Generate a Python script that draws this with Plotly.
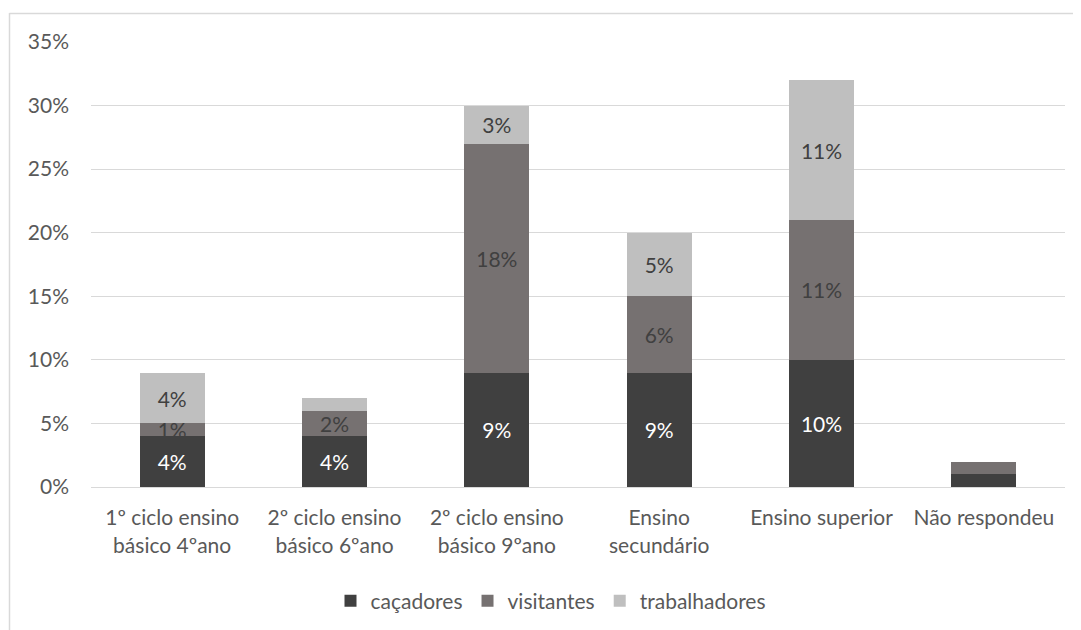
import plotly.graph_objects as go

categories = ["1º ciclo ensino<br>básico 4ºano", "2º ciclo ensino<br>básico 6ºano",
              "2º ciclo ensino<br>básico 9ºano", "Ensino<br>secundário",
              "Ensino superior", "Não respondeu"]
cacadores = [4, 4, 9, 9, 10, 1]
visitantes = [1, 2, 18, 6, 11, 1]
trabalhadores = [4, 1, 3, 5, 11, 0]
show_cac = [True, True, True, True, True, False]
show_vis = [True, True, True, True, True, False]
show_tra = [True, False, True, True, True, False]

FONT = "Lato"
FS = 21
OFF = 8  # page body margin
W, H = 1081 - OFF, 630 - OFF
L, R, T, B = 91 - OFF, 16, 42 - OFF, 143

def labels(vals, show):
    return [f"{v}%" if s else "" for v, s in zip(vals, show)]

fig = go.Figure()
for name, vals, show, color, tcol in [
    ("caçadores", cacadores, show_cac, "#404040", "white"),
    ("visitantes", visitantes, show_vis, "#767171", "#404040"),
    ("trabalhadores", trabalhadores, show_tra, "#BFBFBF", "#404040"),
]:
    fig.add_trace(go.Bar(
        x=categories, y=vals, name=name, marker=dict(color=color, line=dict(width=0)),
        text=labels(vals, show), textposition="inside", insidetextanchor="middle",
        textangle=0, textfont=dict(color=tcol, size=FS, family=FONT),
        hoverinfo="skip",
    ))

pw = W - L - R
ph = H - T - B
def px(x): return (x - OFF - L) / pw
def py(y): return (H - B - (y - OFF)) / ph

fig.update_layout(
    barmode="stack", bargap=0.6,
    width=W, height=H, margin=dict(l=L, r=R, t=T, b=B, autoexpand=False),
    paper_bgcolor="white", plot_bgcolor="white",
    font=dict(family=FONT, size=FS, color="#595959"),
    uniformtext=dict(minsize=FS, mode="show"),
    yaxis=dict(range=[0, 35], dtick=5, ticksuffix="%", showgrid=True,
               gridcolor="#D9D9D9", gridwidth=1.3, zeroline=False, showline=False,
               ticklabelstandoff=21, tickfont=dict(size=FS, color="#595959")),
    xaxis=dict(showline=True, linecolor="#D9D9D9", linewidth=1.3, showgrid=False,
               ticklabelstandoff=12,
               tickfont=dict(size=FS, color="#595959"), ticks=""),
    legend=dict(orientation="h", x=0.5 - 27 / pw, xanchor="center", y=py(601), yanchor="middle",
                font=dict(size=FS, color="#595959"), itemwidth=30, traceorder="normal"),
    shapes=[
        dict(type="line", xref="paper", yref="paper", x0=px(9.5), x1=px(9.5),
             y0=py(13), y1=py(640), line=dict(color="#D9D9D9", width=1.5)),
        dict(type="line", xref="paper", yref="paper", x0=px(9.5), x1=px(1090),
             y0=py(13.5), y1=py(13.5), line=dict(color="#D9D9D9", width=1.5)),
    ],
)

fig.write_html("out.html")
